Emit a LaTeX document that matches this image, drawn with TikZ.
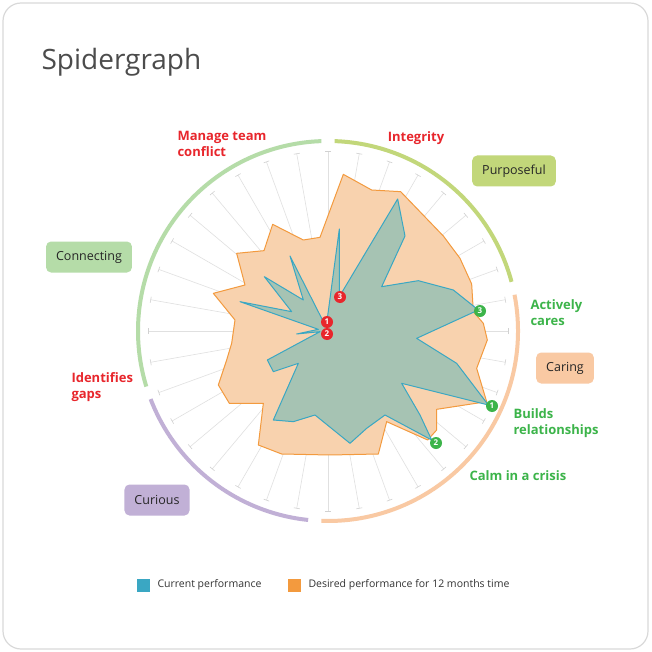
\documentclass[tikz,border=0pt]{standalone}
\usepackage{fontspec}
\usetikzlibrary{calc}
\setmainfont{Open Sans}
\definecolor{redt}{HTML}{E8262C}
\definecolor{greent}{HTML}{3CB44A}
\definecolor{cYG}{HTML}{C2D77A}
\definecolor{cPe}{HTML}{F9C9A3}
\definecolor{cPu}{HTML}{C1B0D6}
\definecolor{cGr}{HTML}{B5DCA8}
\definecolor{orf}{HTML}{F8D2AE}
\definecolor{ors}{HTML}{F39A3E}
\definecolor{tef}{HTML}{A6C3B3}
\definecolor{tes}{HTML}{3AA7C3}
\begin{document}
\begin{tikzpicture}[x=1pt,y=-1pt,
  lab/.style={font=\bfseries\fontsize{13}{16}\selectfont,align=left,anchor=west},
  tag/.style={rounded corners=5pt,minimum height=31pt,inner xsep=10pt,font=\fontsize{12.5}{14}\selectfont,text=black!85},
  mk/.style={circle,inner sep=0pt,minimum size=12pt,text=white,font=\bfseries\fontsize{8}{8}\selectfont},
  ring/.style={line width=4pt}]
\useasboundingbox (0,0) rectangle (651,652);
\draw[black!15,line width=1.2pt,rounded corners=18pt,fill=white] (3,3) rectangle (648,649);
\node[anchor=west,text=black!70,font=\fontsize{28}{30}\selectfont] (title) at (38,62) {Spidergraph};
\coordinate (c) at (328,331);
% spokes
\foreach \a in {0,10,...,350}{
  \draw[black!12,line width=0.6pt] (c) -- ++(\a:180);
  \draw[black!18,line width=0.6pt] ($(c)+(\a:180)$) ++(\a+90:3) -- ++(\a-90:6);
}
% rings (y axis points down, so angles are negated)
\draw[ring,cYG] (c) ++(-88:190) arc[start angle=-88,end angle=-15,radius=190];
\draw[ring,cPe] (c) ++(-11:190) arc[start angle=-11,end angle=92,radius=190];
\draw[ring,cPu] (c) ++(96:190) arc[start angle=96,end angle=159,radius=190];
\draw[ring,cGr] (c) ++(163:190) arc[start angle=163,end angle=268,radius=190];
% polygons (zoomed coordinates)
\begin{scope}[shift={(130,130)},scale=1/3]
\draw[fill=orf,draw=ors,line width=1pt,line join=round]
 (640,133)--(725,180)--(812,185)--(940,318)--(990,385)--(1025,462)--(1030,545)--(1060,580)--(1072,630)--(1040,715)--(1070,815)--(920,838)--(920,900)--(893,930)--(770,875)--(745,972)--(600,975)--(455,972)--(385,945)--(400,820)--(298,820)--(265,765)--(290,690)--(305,640)--(315,570)--(250,490)--(345,465)--(320,370)--(402,362)--(428,283)--(520,330)--(570,322)--cycle;
\draw[fill=tef,draw=tes,line width=1pt,line join=round]
 (590,580)--(628,297)--(628,500)--(803,207)--(825,318)--(755,470)--(865,452)--(970,480)--(1045,540)--(860,625)--(980,700)--(1075,825)--(815,760)--(870,855)--(905,930)--(765,855)--(710,895)--(660,940)--(555,855)--(490,875)--(430,870)--(505,700)--(430,725)--(412,690)--(570,605)--(500,612)--(565,598)--(330,515)--(485,545)--(403,440)--(520,510)--(480,378)--(580,575)--cycle;
\end{scope}
% markers
\node[mk,fill=redt] (r3) at (340,297) {3};
\node[mk,fill=redt] (r1) at (327,322) {1};
\node[mk,fill=redt] (r2) at (327,334) {2};
\node[mk,fill=greent] (g3) at (480,311) {3};
\node[mk,fill=greent] (g1) at (492,406) {1};
\node[mk,fill=greent] (g2) at (436,443) {2};
% labels
\node[lab,text=redt,anchor=center] (l1) at (416,138) {Integrity};
\node[lab,text=redt,anchor=north west] (l2) at (174,128) {Manage team\\conflict};
\node[lab,text=greent,anchor=north west] (l3) at (527,296) {Actively\\cares};
\node[lab,text=greent,anchor=north west] (l4) at (510,405) {Builds\\relationships};
\node[lab,text=greent] (l5) at (466,476) {Calm in a crisis};
\node[lab,text=redt,anchor=north west] (l6) at (68,369) {Identifies\\gaps};
\node[tag,fill=cYG] (t1) at (514,171) {Purposeful};
\node[tag,fill=cGr] (t2) at (89,257) {Connecting};
\node[tag,fill=cPe] (t3) at (565,368) {Caring};
\node[tag,fill=cPu] (t4) at (157,500) {Curious};
% legend
\node[fill=tes,minimum size=13pt,inner sep=0pt] (k1) at (143,585) {};
\node[anchor=west,font=\fontsize{10.5}{12}\selectfont,text=black!80] (k1t) at (154,585) {Current performance};
\node[fill=ors,minimum size=13pt,inner sep=0pt] (k2) at (294,585) {};
\node[anchor=west,font=\fontsize{10.5}{12}\selectfont,text=black!80] (k2t) at (305,585) {Desired performance for 12 months time};
\end{tikzpicture}
\end{document}
